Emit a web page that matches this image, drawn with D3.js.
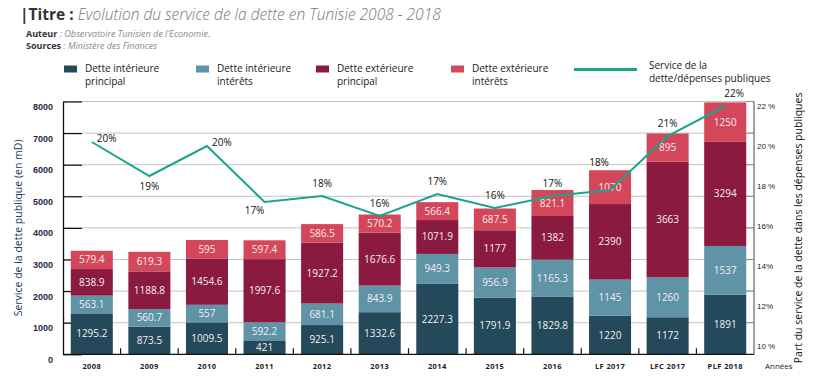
<!DOCTYPE html>
<html>
<head>
<meta charset="utf-8">
<script src="https://cdn.jsdelivr.net/npm/d3@7"></script>
<style>
  body { margin: 0; background: #fff; }
  svg { font-family: "Open Sans", "Noto Sans", sans-serif; }
</style>
</head>
<body>
<div id="chart"></div>
<script>
// categories (years)
const years = ["2008", "2009", "2010", "2011", "2012", "2013", "2014", "2015", "2016", "LF 2017", "LFC 2017", "PLF 2018"];

// series values (en mD)
const intPrincipal = [1295.2, 873.5, 1009.5, 421, 925.1, 1332.6, 2227.3, 1791.9, 1829.8, 1220, 1172, 1891];
const intInterets  = [563.1, 560.7, 557, 592.2, 681.1, 843.9, 949.3, 956.9, 1165.3, 1145, 1260, 1537];
const extPrincipal = [838.9, 1188.8, 1454.6, 1997.6, 1927.2, 1676.6, 1071.9, 1177, 1382, 2390, 3663, 3294];
const extInterets  = [579.4, 619.3, 595, 597.4, 586.5, 570.2, 566.4, 687.5, 821.1, 1070, 895, 1250];

// service de la dette / dépenses publiques (%)
const partService = [20.2, 18.5, 20.0, 17.2, 17.5, 16.5, 17.6, 16.9, 17.5, 17.8, 20.5, 22.0];
const partLabels  = ["20%", "19%", "20%", "17%", "18%", "16%", "17%", "16%", "17%", "18%", "21%", "22%"];
const labelSide   = ["e", "s", "e", "sw", "n", "n", "n", "n", "n", "nw", "n", "nne"];

// tick labels
const leftTicks  = [0, 1000, 2000, 3000, 4000, 5000, 6000, 7000, 8000];
const rightTicks = [10, 12, 14, 16, 18, 20, 22];
const rightTickLabels = ["10 %", "12%", "14%", "16%", "18 %", "20 %", "22 %"];

const seriesNames = ["Dette intérieure\nprincipal", "Dette intérieure\nintérêts", "Dette extérieure\nprincipal", "Dette extérieure\nintérêts"];
const seriesKeys = ["intP", "intI", "extP", "extI"];
const colors = ["#24495a", "#5f93a6", "#8b1a40", "#d4475a"];
const lineColor = "#17a68b";

const width = 816, height = 378;
const margin = { top: 101.5, bottom: 23.7, left: 63, right: 62 };

const svg = d3.select("#chart").append("svg")
    .attr("width", width)
    .attr("height", height);

// ---- header
const head = svg.append("g");
head.append("text")
    .attr("x", 20).attr("y", 20)
    .attr("font-size", 15.5)
    .call(t => {
        t.append("tspan").attr("fill", "#333").attr("font-weight", 700).text("|Titre : ");
        t.append("tspan").attr("fill", "#777").attr("font-style", "italic").attr("font-weight", 300)
            .text("Evolution du service de la dette en Tunisie 2008 - 2018");
    });
head.append("text")
    .attr("x", 26).attr("y", 37)
    .attr("font-size", 9)
    .attr("fill", "#333")
    .html('<tspan font-weight="700">Auteur</tspan><tspan fill="#888" font-style="italic"> : Observatoire Tunisien de l\'Economie.</tspan>');
head.append("text")
    .attr("x", 26).attr("y", 49)
    .attr("font-size", 9)
    .attr("fill", "#333")
    .html('<tspan font-weight="700">Sources</tspan><tspan fill="#888" font-style="italic"> : Ministère des Finances</tspan>');

// ---- data table
const table = years.map((y, i) => ({
    year: y,
    intP: intPrincipal[i],
    intI: intInterets[i],
    extP: extPrincipal[i],
    extI: extInterets[i],
    part: partService[i],
    label: partLabels[i],
    side: labelSide[i]
}));

const stacked = d3.stack().keys(seriesKeys)(table);

// ---- scales
const xScale = d3.scaleBand()
    .domain(years)
    .range([margin.left, width - margin.right])
    .paddingInner(0.27)
    .paddingOuter(0.135);

const yScale = d3.scaleLinear()
    .domain([0, 8000])
    .range([height - margin.bottom, margin.top]);

const y2Scale = d3.scaleLinear()
    .domain([10, 22])
    .range([346, 106]);

const x0 = margin.left, x1 = width - margin.right;

// ---- gridlines
svg.append("g")
    .attr("class", "grid")
    .selectAll("line")
    .data(leftTicks.filter(d => d > 0))
    .join("line")
    .attr("x1", x0).attr("x2", x1)
    .attr("y1", d => yScale(d)).attr("y2", d => yScale(d))
    .attr("stroke", "#c4c4c4")
    .attr("stroke-width", 1);

// ---- left axis
const yAxis = d3.axisLeft(yScale).tickValues(leftTicks).tickFormat(d3.format("d")).tickSize(0).tickPadding(10);
const gy = svg.append("g")
    .attr("transform", `translate(${x0},0)`)
    .call(yAxis);
gy.select(".domain").attr("stroke", "#111").attr("stroke-width", 1.3);
gy.selectAll("text")
    .attr("font-size", 9)
    .attr("font-weight", 700)
    .attr("fill", "#1b2a48")
    .attr("dy", "0.9em");
gy.selectAll(".tick").append("line")
    .attr("x1", 0).attr("x2", 19)
    .attr("stroke", "#111").attr("stroke-width", 1.2);

// ---- right axis
const y2Axis = d3.axisRight(y2Scale).tickValues(rightTicks)
    .tickFormat((d, i) => rightTickLabels[i]).tickSize(0).tickPadding(3);
const gy2 = svg.append("g")
    .attr("transform", `translate(${x1},0)`)
    .call(y2Axis);
gy2.select(".domain").remove();
gy2.selectAll("text")
    .attr("font-size", 8)
    .attr("fill", "#222");
svg.append("line")
    .attr("x1", x1).attr("x2", x1)
    .attr("y1", yScale(8000)).attr("y2", yScale(0))
    .attr("stroke", "#444").attr("stroke-width", 1);
svg.append("g")
    .selectAll("line")
    .data(leftTicks.filter(d => d > 0))
    .join("line")
    .attr("x1", x1 - 8).attr("x2", x1)
    .attr("y1", d => yScale(d)).attr("y2", d => yScale(d))
    .attr("stroke", "#888");

// ---- bars
const layers = svg.append("g")
    .selectAll("g.layer")
    .data(stacked)
    .join("g")
    .attr("class", "layer")
    .attr("fill", (d, i) => colors[i]);

layers.selectAll("rect")
    .data(d => d)
    .join("rect")
    .attr("x", d => xScale(d.data.year))
    .attr("width", xScale.bandwidth())
    .attr("y", d => yScale(d[1]))
    .attr("height", d => yScale(d[0]) - yScale(d[1]));

layers.selectAll("text")
    .data(d => d.map(v => ({ v, key: d.key })))
    .join("text")
    .attr("x", d => xScale(d.v.data.year) + xScale.bandwidth() / 2)
    .attr("y", d => (yScale(d.v[0]) + yScale(d.v[1])) / 2)
    .attr("dy", "0.35em")
    .attr("text-anchor", "middle")
    .attr("font-size", 10)
    .attr("fill", "#f4eef2")
    .text(d => d.v.data[d.key]);

// ---- x axis
const gx = svg.append("g")
    .attr("transform", `translate(0,${yScale(0)})`);
gx.append("line")
    .attr("x1", x0).attr("x2", x1)
    .attr("stroke", "#111").attr("stroke-width", 1.3);
const sepX = d => xScale(d) + xScale.step() - (xScale.step() - xScale.bandwidth()) / 2;
gx.selectAll("line.sep")
    .data(years.slice(0, -1))
    .join("line")
    .attr("class", "sep")
    .attr("x1", sepX)
    .attr("x2", sepX)
    .attr("y1", 0).attr("y2", -6)
    .attr("stroke", "#111").attr("stroke-width", 1.2);
gx.selectAll("text")
    .data(years)
    .join("text")
    .attr("x", d => xScale(d) + xScale.bandwidth() / 2)
    .attr("y", 15)
    .attr("text-anchor", "middle")
    .attr("font-size", 7.5)
    .attr("font-weight", 700)
    .attr("letter-spacing", 0.4)
    .attr("fill", "#222")
    .text(d => d);
svg.append("text")
    .attr("x", 765).attr("y", 369)
    .attr("font-size", 8)
    .attr("fill", "#222")
    .text("Années");

// ---- line
const lineFunc = d3.line()
    .x(d => xScale(d.year) + xScale.bandwidth() / 2)
    .y(d => y2Scale(d.part));

svg.append("path")
    .datum(table)
    .attr("fill", "none")
    .attr("stroke", lineColor)
    .attr("stroke-width", 2)
    .attr("d", lineFunc);

const offsets = {
    n:   [0, -9, "middle"],
    e:   [5, 0, "start"],
    nne: [9, -9, "middle"],
    nw:  [-11, -24, "middle"],
    s:   [0, 14, "middle"],
    sw:  [-10, 12, "middle"]
};
svg.append("g")
    .selectAll("text")
    .data(table)
    .join("text")
    .attr("x", d => xScale(d.year) + xScale.bandwidth() / 2 + offsets[d.side][0])
    .attr("y", d => y2Scale(d.part) + offsets[d.side][1])
    .attr("text-anchor", d => offsets[d.side][2])
    .attr("font-size", 10)
    .attr("fill", "#111")
    .text(d => d.label);

// ---- axis titles
svg.append("text")
    .attr("transform", `translate(22,${(yScale(0) + yScale(8000)) / 2}) rotate(-90)`)
    .attr("text-anchor", "middle")
    .attr("font-size", 10.5)
    .attr("fill", "#1c3566")
    .text("Service de la dette publique (en mD)");
svg.append("text")
    .attr("transform", `translate(802,${(yScale(0) + yScale(8000)) / 2}) rotate(-90)`)
    .attr("text-anchor", "middle")
    .attr("font-size", 10.5)
    .attr("fill", "#111")
    .text("Part du service de la dette dans les dépenses publiques");

// ---- legend
const legendX = [64, 196, 316, 451];
const legend = svg.append("g");
seriesNames.forEach((name, i) => {
    const g = legend.append("g").attr("transform", `translate(${legendX[i]},0)`);
    g.append("rect").attr("x", 0).attr("y", 65.5).attr("width", 13).attr("height", 7).attr("fill", colors[i]);
    const t = g.append("text").attr("x", 21).attr("y", 72).attr("font-size", 10).attr("fill", "#1a1a1a");
    name.split("\n").forEach((line, k) => {
        t.append("tspan").attr("x", 21).attr("dy", k === 0 ? 0 : 12.5).text(line);
    });
});
legend.append("line")
    .attr("x1", 574).attr("x2", 637)
    .attr("y1", 69.5).attr("y2", 69.5)
    .attr("stroke", lineColor).attr("stroke-width", 3);
const lt = legend.append("text").attr("x", 649).attr("y", 69).attr("font-size", 10).attr("fill", "#1a1a1a");
lt.append("tspan").attr("x", 649).text("Service de la");
lt.append("tspan").attr("x", 649).attr("dy", 12.5).text("dette/dépenses publiques");
</script>
</body>
</html>
